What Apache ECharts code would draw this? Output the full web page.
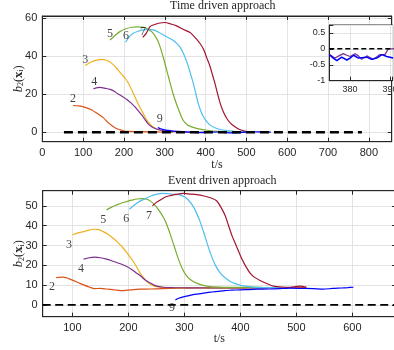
<!DOCTYPE html>
<html><head><meta charset="utf-8">
<script src="https://cdn.jsdelivr.net/npm/echarts@6/dist/echarts.min.js"></script>
<style>html,body{margin:0;padding:0;background:#fff}#c{width:394px;height:350px}</style>
</head><body><div id="c"></div>
<script>
// ---------- Time driven approach (top) ----------
const t2 = [75,90,105,120,135,150,160,170,180,190,200,210,230,260,290,320];
const v2 = [14,13.8,13,11.8,9.8,7.5,5.3,3.5,2.1,1.3,0.6,0.4,0.3,0.2,0.1,0];
const t3 = [105,115,125,135,145,155,165,175,185,195,205,215,225,235,245,255,265,275,285,300,330,350];
const v3 = [35,36.3,37.3,38,38.2,37.9,37,35.2,32.8,30.2,27.8,24,19.5,14.8,10.8,6.6,4,2.3,1.3,0.6,0.3,0];
const t4 = [125,141,155,166,176,186,197,207,217,227,236,244,252,260,268,276,290,310,340,370,380,390,400];
const v4 = [22.8,23.5,23,22.5,21.5,20,18.6,17.2,15.4,13.3,11,8.9,6.5,4.2,2.8,1.9,1,0.5,0.2,-0.1,-0.2,0,0];
const t5 = [166,178,190,205,219,233,248,258,268,277,285,297,309,321,333,345,356,366,386,403,430,460,480];
const v5 = [48.4,50.8,52.8,54.3,55.1,55.3,55.1,54.2,52.8,50.3,47,38.8,29.1,19.8,12.3,6.3,3.8,2.8,1.6,1,0.4,0.1,0];
const t6 = [204,213,223,235,247,260,272,285,297,310,322,330,338,346,352,358,364,370,376,382,388,395,403,411,423,436,452,468,500];
const v6 = [47.2,50,51.9,53,53.7,54,53.7,52.5,51,49.5,48,46.5,44.5,41.2,38,34.4,30,25.6,20.3,15.1,11.3,8,5.5,3.7,2.3,1.4,0.8,0.5,0];
const t7 = [246,255,264,272,285,300,315,329,345,362,375,386,395,403,411,417,423,429,436,444,452,462,472,482,493,510];
const v7 = [49.8,52,55.4,56.3,57.2,57.6,56.8,55.8,54,52.3,49.5,46.7,43.5,39,34.5,30,25.6,20.5,15,10.5,7.2,4.5,2.8,1.5,0.7,0];
const t9 = [283,290,300,310,320,335,350,365,380,395,410,430,450,470,490,510,530,545,560];
const v9 = [2.5,1.8,1.2,0.9,0.6,0.4,0.2,0,-0.2,-0.2,0,0.1,-0.2,-0.4,-0.1,0.1,0.2,0.1,0];
const refT = [53,783];
const refV = [0,0];
const topLabelNames = ['2','3','4','5','6','7','9'];
const topLabelT = [75,105,127,166,205,247,288];
const topLabelV = [17.4,37.9,26.3,51.6,50.5,52.6,6.8];
// inset (zoom of top chart)
const insT4 = [374.8,376.25,377.2,378.3,379.2,380,381.25,382.1,382.9,384.2,385.8,387.5,388.75,389.6,390.8];
const insV4 = [-0.18,-0.29,-0.22,-0.15,-0.2,-0.24,-0.15,-0.22,-0.33,-0.22,-0.33,-0.18,-0.18,0,0];
const insT9 = [374.8,375.8,376.7,377.9,379.2,380,380.9,382.1,384.2,385.4,386.7,388,389.2,390.8];
const insV9 = [-0.18,-0.29,-0.37,-0.26,-0.35,-0.29,-0.2,-0.29,-0.26,-0.33,-0.29,-0.18,-0.24,-0.29];
const insRefT = [374.8,391];
// ---------- Event driven approach (bottom) ----------
const te2 = [71,84,99,110,120,130,140,150,161,175,191,205,221,240,260,290,320,360,400,440,480,518];
const ve2 = [13.8,14,12.6,11.3,10.1,9,8.2,8.3,8,7.6,7.2,7.6,7.9,8,8.2,8.4,8.5,8.6,8.6,8.7,8.7,8.8];
const te3 = [100,110,120,130,138,147,155,164,173,182,191,200,209,215,221,227,233,239,245,253,262,280,310,350,400,440];
const ve3 = [35.4,36.4,37,37.8,38.2,38,37,35.6,33.7,31.3,28.6,25.4,21.9,19,16,13.8,11.8,10.5,9.6,9.1,8.9,8.7,8.7,8.6,8.6,8.6];
const te4 = [120,130,140,150,161,170,179,188,197,206,215,223,230,238,245,253,262,280,310,350,400,450];
const ve4 = [23.1,23.8,24.1,23.8,23.1,22.3,21.4,20.5,19.4,17.9,16,14.3,12.6,11.2,10.1,9.3,8.9,8.7,8.6,8.5,8.5,8.5];
const te5 = [161,170,179,188,197,206,215,224,233,240,247,254,261,268,275,282,289,296,304,313,322,334,346,370,400,440];
const ve5 = [48,49.4,50.5,51.5,52.2,52.9,53.5,53.7,53.4,52.3,50.5,48,45,41,35.5,29.5,23.5,18.5,14.6,12.3,11,9.8,9.2,8.9,8.8,8.8];
const te6 = [202,210,220,230,240,250,260,270,280,292,300,307,314,320,328,337,346,355,363,370,382,392,400,412,423,447,480];
const ve6 = [48.3,50.3,52.3,53.6,55,55.8,56.3,56.2,55.9,55.6,54.6,53,50.5,47.5,42.2,34.5,26.5,20.2,16.5,14.3,11.8,10.6,9.9,9.3,9,8.7,8.7];
const te7 = [243,250,257,265,275,285,298,310,322,335,349,358,366,373,379,385,391,397,403,410,417,425,435,447,459,475,489,500,507,518];
const ve7 = [50,51.8,53,54.4,55.2,55.8,56.3,56,55.7,55,53.9,52.5,49,45,40,35,31,27,23,19.3,16.2,14,12.3,10.8,9.5,9,8.9,9.3,9.5,8.9];
const te9 = [284,290,298,306,314,322,330,340,350,360,372,385,400,415,430,450,470,490,510,530,548,565,580,592,602];
const ve9 = [2.5,3.3,4,4.5,5,5.4,5.7,6.2,6.5,6.8,7.2,7.4,7.6,7.7,7.9,8,8.2,8.4,8.3,8.2,7.9,8.3,8.5,8.7,8.9];
const refE = [47,678];
const botLabelNames = ['2','3','4','5','6','7','9'];
const botLabelT = [63.7,94,115.5,155,196,237,278];
const botLabelV = [9.1,30.3,18.2,42.9,43.4,45,-1.5];

const C2='#D95319', C3='#EDB120', C4='#7E2F8E', C5='#77AC30', C6='#4DBEEE', C7='#A2142F', C9='#0000FF';
const zip = (a,b) => a.map((x,i)=>[x,b[i]]);
const AX='#262626', GRIDC='#e3e3e3';
const SANS='"Liberation Sans", Arial, sans-serif', SERIF='"Liberation Serif", "DejaVu Serif", serif';

function mkAxis(o){
  const main = o.main;
  return Object.assign({
    type:'value', min:o.min, max:o.max, gridIndex:o.g, position:o.pos,
    axisLine:{show:true, onZero:false, lineStyle:{color:AX, width:1}},
    axisTick:{show:true, inside:true, length:4, lineStyle:{color:AX}},
    axisLabel:{show:main, color:AX, fontFamily:SANS, fontSize:o.fs||11, margin:o.margin||5,
      formatter:(v)=>{ const s=o.step; if(Math.abs(v/s-Math.round(v/s))>1e-6) return ''; return String(+v.toFixed(2)); },
      showMinLabel:true, showMaxLabel:true, hideOverlap:false},
    splitLine:{show:main && o.split!==false, lineStyle:{color:GRIDC, width:1}},
    nameMoveOverlap:false,
    z: o.z||0
  }, o.extra||{});
}
const yName = '{b|b}{s|2}{p|(}{x|x}{s|i}{p|)}';
const yNameStyle = {color:AX, fontFamily:SERIF, fontSize:12.5, rich:{
  b:{fontStyle:'italic', fontFamily:SERIF, fontSize:12.5, color:AX},
  s:{fontSize:8, verticalAlign:'bottom', fontFamily:SERIF, color:AX, padding:[6,0,0,0]},
  p:{fontFamily:SERIF, fontSize:12.5, color:AX},
  x:{fontWeight:'bold', fontFamily:SERIF, fontSize:12.5, color:AX}}};

const line = (name,data,color,xi,yi,extra) => Object.assign({
  type:'line', name, data, xAxisIndex:xi, yAxisIndex:yi, showSymbol:false, symbol:'none',
  smooth:0.25, lineStyle:{color, width:1.2}, itemStyle:{color}, z:2, silent:true, animation:false
}, extra||{});

const gridBase = {show:true, borderColor:AX, borderWidth:1, containLabel:false, outerBoundsMode:'none'};
const option = {
  animation:false,
  backgroundColor:'#fff',
  title:[
    {text:'Time driven approach', left:170, top:0, padding:0, textStyle:{fontFamily:SERIF, fontSize:12, fontWeight:'normal', color:AX}},
    {text:'Event driven approach', left:168, top:175, padding:0, textStyle:{fontFamily:SERIF, fontSize:12, fontWeight:'normal', color:AX}}
  ],
  grid:[
    Object.assign({left:42.3, top:16, width:349.4, height:125.7, backgroundColor:'transparent'}, gridBase),
    Object.assign({left:329.3, top:25, width:63.4, height:55.7, backgroundColor:'#fff', z:3}, gridBase),
    Object.assign({left:42.7, top:190.7, width:353.3, height:126, backgroundColor:'transparent'}, gridBase)
  ],
  xAxis:[
    mkAxis({g:0, min:0, max:856, step:100, pos:'bottom', main:true, margin:6,
      extra:{interval:100, name:'t/s', nameLocation:'middle', nameGap:17, nameTextStyle:{fontFamily:SERIF, fontSize:12, color:AX}}}),
    mkAxis({g:0, min:0, max:856, step:100, pos:'top', main:false, extra:{interval:100}}),
    mkAxis({g:1, min:374.8, max:390.7, step:10, pos:'bottom', main:true, fs:9, margin:4, z:4, extra:{splitNumber:2}}),
    mkAxis({g:2, min:47, max:678, step:100, pos:'bottom', main:true, margin:6,
      extra:{splitNumber:6, name:'t/s', nameLocation:'middle', nameGap:16, nameTextStyle:{fontFamily:SERIF, fontSize:12, color:AX}}}),
    mkAxis({g:2, min:47, max:678, step:100, pos:'top', main:false, extra:{splitNumber:6}})
  ],
  yAxis:[
    mkAxis({g:0, min:-5, max:61, step:20, pos:'left', main:true,
      extra:{splitNumber:3, name:yName, nameLocation:'middle', nameRotate:90, nameGap:17, nameTextStyle:yNameStyle}}),
    mkAxis({g:0, min:-5, max:61, step:20, pos:'right', main:false, extra:{splitNumber:3}}),
    mkAxis({g:1, min:-1, max:0.75, step:0.5, pos:'left', main:true, fs:9, margin:4, z:4, extra:{interval:0.5}}),
    mkAxis({g:2, min:-6, max:57.7, step:10, pos:'left', main:true,
      extra:{splitNumber:6, name:yName, nameLocation:'middle', nameRotate:90, nameGap:17, nameTextStyle:yNameStyle}}),
    mkAxis({g:2, min:-6, max:57.7, step:10, pos:'right', main:false, extra:{splitNumber:6}})
  ],
  series:[
    line('2',zip(t2,v2),C2,0,0), line('3',zip(t3,v3),C3,0,0), line('4',zip(t4,v4),C4,0,0),
    line('5',zip(t5,v5),C5,0,0), line('6',zip(t6,v6),C6,0,0), line('7',zip(t7,v7),C7,0,0),
    line('9',zip(t9,v9),C9,0,0),
    line('ref',zip(refT,refV),'#000',0,0,{smooth:false, z:3, lineStyle:{color:'#000', width:2.5, type:[9,5]}}),
    {type:'scatter', xAxisIndex:0, yAxisIndex:0, symbolSize:0, z:4, silent:true,
      data:topLabelT.map((t,i)=>[t,topLabelV[i],topLabelNames[i]]),
      label:{show:true, position:'inside', formatter:(p)=>p.data[2], fontFamily:SERIF, fontSize:12, color:'#111'}},
    // inset
    line('i4',zip(insT4,insV4),C4,2,2,{smooth:false, z:6}),
    line('i9',zip(insT9,insV9),C9,2,2,{smooth:false, z:6, lineStyle:{color:C9, width:1.5}}),
    line('iref',zip(insRefT,[0,0]),'#000',2,2,{smooth:false, z:7, lineStyle:{color:'#000', width:1.5, type:[5,3]}}),
    // bottom
    line('e2',zip(te2,ve2),C2,3,3), line('e3',zip(te3,ve3),C3,3,3), line('e4',zip(te4,ve4),C4,3,3),
    line('e5',zip(te5,ve5),C5,3,3), line('e6',zip(te6,ve6),C6,3,3), line('e7',zip(te7,ve7),C7,3,3),
    line('e9',zip(te9,ve9),C9,3,3),
    line('eref',zip(refE,[0,0]),'#000',3,3,{smooth:false, z:3, lineStyle:{color:'#000', width:1.8, type:[8,4.5]}}),
    {type:'scatter', xAxisIndex:3, yAxisIndex:3, symbolSize:0, z:4, silent:true,
      data:botLabelT.map((t,i)=>[t,botLabelV[i],botLabelNames[i]]),
      label:{show:true, position:'inside', formatter:(p)=>p.data[2], fontFamily:SERIF, fontSize:12, color:'#111'}}
  ]
};
const chart = echarts.init(document.getElementById('c'), null, {renderer:'canvas'});
chart.setOption(option);
</script></body></html>
